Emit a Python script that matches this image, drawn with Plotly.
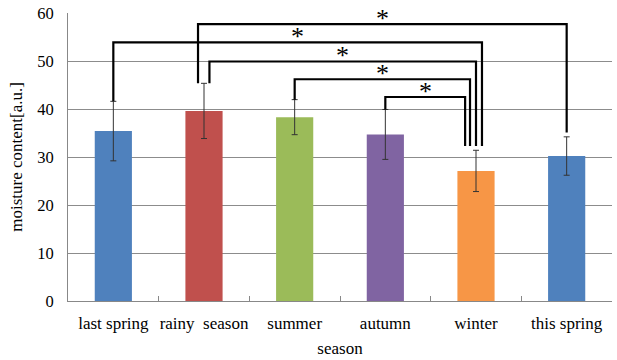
import plotly.graph_objects as go

categories = ["last spring", "rainy\u00a0\u00a0season", "summer", "autumn", "winter", "this spring"]
means = [35.4, 39.6, 38.3, 34.7, 27.1, 30.2]
errors = [6.2, 5.75, 3.65, 5.2, 4.3, 4.0]
colors = ["#4F81BD", "#C0504D", "#9BBB59", "#8064A2", "#F79646", "#4F81BD"]

# significance brackets: (left index, right index, bracket level, left x offset, right x offset)
brackets = [
    (1, 5, 57.7, -0.066, 0.0),
    (0, 4, 53.9, 0.0, 0.066),
    (1, 4, 49.9, 0.06, 0.0),
    (2, 4, 46.2, 0.0, -0.066),
    (3, 4, 42.5, 0.0, -0.12),
]
left_gap = 0.0
right_gap = 0.9

fig = go.Figure()
fig.add_trace(go.Bar(
    x=categories, y=means,
    marker=dict(color=colors, line=dict(width=0)),
    width=0.41,
    error_y=dict(type="data", array=errors, visible=True, color="#333333", thickness=1, width=3),
    showlegend=False,
))

shapes = []
annotations = []
for (i, j, lvl, oi, oj) in brackets:
    xi = i + oi
    xj = j + oj
    yi = means[i] + errors[i] + left_gap
    yj = means[j] + errors[j] + right_gap
    shapes.append(dict(
        type="path", xref="x", yref="y",
        path=f"M {xi} {yi} L {xi} {lvl} L {xj} {lvl} L {xj} {yj}",
        line=dict(color="black", width=2.2),
    ))
    annotations.append(dict(
        x=(xi + xj) / 2, y=lvl, xref="x", yref="y", text="*",
        showarrow=False, yanchor="middle", yshift=6,
        font=dict(family="Liberation Serif", size=26, color="black"),
    ))

fig.update_layout(
    width=617, height=360,
    margin=dict(l=68, r=5, t=13, b=59, autoexpand=False),
    paper_bgcolor="white", plot_bgcolor="white",
    font=dict(family="Liberation Serif", size=17, color="black"),
    bargap=0.59,
    shapes=shapes,
    annotations=annotations,
    xaxis=dict(
        type="category",
        showline=True, linecolor="#888888", linewidth=1,
        ticks="inside", ticklen=5, tickcolor="#888888", tickson="boundaries",
        showgrid=False, tickangle=0,
        tickfont=dict(size=17),
        ticklabelstandoff=7,
        title=dict(text="season", font=dict(size=17), standoff=9),
    ),
    yaxis=dict(
        range=[0, 60], dtick=10,
        showline=True, linecolor="#888888", linewidth=1,
        showgrid=True, gridcolor="#8c8c8c", gridwidth=1,
        zeroline=False,
        ticks="", ticklabelstandoff=10,
        tickfont=dict(size=16.5),
        title=dict(text="moisture content[a.u.]", font=dict(size=17), standoff=10),
    ),
)

fig.write_html("out.html", config={"displayModeBar": False},
               post_script="document.body.style.margin='0';")
